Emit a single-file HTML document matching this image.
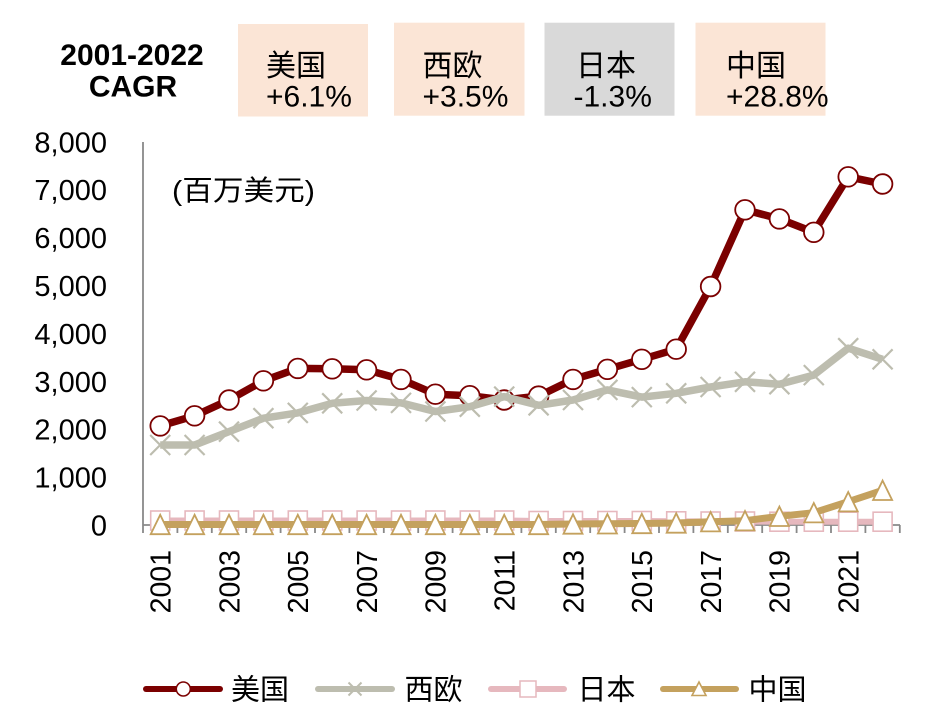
<!DOCTYPE html>
<html><head><meta charset="utf-8"><style>
html,body{margin:0;padding:0;background:#fff;width:930px;height:728px;overflow:hidden}
svg{display:block}
text{font-family:"Liberation Sans","Noto Sans CJK SC",sans-serif;fill:#000}
</style></head><body>
<svg width="930" height="728" viewBox="0 0 930 728" xmlns="http://www.w3.org/2000/svg">
<!-- header -->
<text x="132" y="65" font-size="30" font-weight="bold" text-anchor="middle">2001-2022</text>
<text x="133" y="96.5" font-size="30" font-weight="bold" text-anchor="middle">CAGR</text>
<rect x="238" y="24" width="130" height="92.5" fill="#FBE5D6"/>
<rect x="394" y="22.7" width="130.5" height="93" fill="#FBE5D6"/>
<rect x="544.5" y="22.7" width="130" height="93" fill="#D9D9D9"/>
<rect x="695.5" y="22.7" width="130" height="93" fill="#FBE5D6"/>
<text x="266" y="76" font-size="30">美国</text>
<text x="266" y="106.5" font-size="30">+6.1%</text>
<text x="422.5" y="76" font-size="30">西欧</text>
<text x="422.5" y="106.5" font-size="30">+3.5%</text>
<text x="576" y="76" font-size="30">日本</text>
<text x="573.5" y="106.5" font-size="30">-1.3%</text>
<text x="726" y="76" font-size="30">中国</text>
<text x="726" y="106.5" font-size="30">+28.8%</text>

<!-- y axis labels -->
<g font-size="29" text-anchor="end">
<text x="107" y="152.3">8,000</text>
<text x="107" y="200.2">7,000</text>
<text x="107" y="248.1">6,000</text>
<text x="107" y="296.0">5,000</text>
<text x="107" y="343.9">4,000</text>
<text x="107" y="391.8">3,000</text>
<text x="107" y="439.7">2,000</text>
<text x="107" y="487.6">1,000</text>
<text x="107" y="535.5">0</text>
</g>
<text x="172" y="200" font-size="28" textLength="143" lengthAdjust="spacingAndGlyphs">(百万美元)</text>

<!-- axes -->
<g stroke="#898989" stroke-width="1.8" fill="none">
<line x1="143" y1="142" x2="143" y2="533"/>
<line x1="143" y1="525" x2="900" y2="525"/>
<path d="M177.4 525v8M211.8 525v8M246.2 525v8M280.6 525v8M315 525v8M349.4 525v8M383.8 525v8M418.2 525v8M452.6 525v8M487 525v8M521.4 525v8M555.8 525v8M590.2 525v8M624.6 525v8M659 525v8M693.4 525v8M727.8 525v8M762.2 525v8M796.6 525v8M831 525v8M865.4 525v8M899.8 525v8"/>
</g>

<!-- x labels -->
<g font-size="28.5" text-anchor="end">
<text transform="translate(170.5,550) rotate(-90)">2001</text>
<text transform="translate(239.3,550) rotate(-90)">2003</text>
<text transform="translate(308.1,550) rotate(-90)">2005</text>
<text transform="translate(376.9,550) rotate(-90)">2007</text>
<text transform="translate(445.7,550) rotate(-90)">2009</text>
<text transform="translate(514.5,550) rotate(-90)">2011</text>
<text transform="translate(583.3,550) rotate(-90)">2013</text>
<text transform="translate(652.1,550) rotate(-90)">2015</text>
<text transform="translate(720.9,550) rotate(-90)">2017</text>
<text transform="translate(789.7,550) rotate(-90)">2019</text>
<text transform="translate(858.5,550) rotate(-90)">2021</text>
</g>

<!-- US series -->
<polyline fill="none" stroke="#7B0000" stroke-width="7.5" stroke-linejoin="round"
points="160.2,425.9 194.6,415.8 229,400 263.4,380.8 297.8,368.4 332.2,368.8 366.6,369.8 401,379.4 435.4,394.2 469.8,395.7 504.2,400 538.6,396.1 573,379.4 607.4,369.3 641.8,359.3 676.2,349.2 710.6,286.5 745,209.8 779.4,218.9 813.8,232.3 848.2,176.8 882.6,184"/>
<g fill="#fff" stroke="#7B0000" stroke-width="1.8">
<circle cx="160.2" cy="425.9" r="9.8"/><circle cx="194.6" cy="415.8" r="9.8"/><circle cx="229" cy="400" r="9.8"/><circle cx="263.4" cy="380.8" r="9.8"/><circle cx="297.8" cy="368.4" r="9.8"/><circle cx="332.2" cy="368.8" r="9.8"/><circle cx="366.6" cy="369.8" r="9.8"/><circle cx="401" cy="379.4" r="9.8"/><circle cx="435.4" cy="394.2" r="9.8"/><circle cx="469.8" cy="395.7" r="9.8"/><circle cx="504.2" cy="400" r="9.8"/><circle cx="538.6" cy="396.1" r="9.8"/><circle cx="573" cy="379.4" r="9.8"/><circle cx="607.4" cy="369.3" r="9.8"/><circle cx="641.8" cy="359.3" r="9.8"/><circle cx="676.2" cy="349.2" r="9.8"/><circle cx="710.6" cy="286.5" r="9.8"/><circle cx="745" cy="209.8" r="9.8"/><circle cx="779.4" cy="218.9" r="9.8"/><circle cx="813.8" cy="232.3" r="9.8"/><circle cx="848.2" cy="176.8" r="9.8"/><circle cx="882.6" cy="184" r="9.8"/>
</g>

<!-- West Europe series -->
<polyline fill="none" stroke="#BDBDAF" stroke-width="7.5" stroke-linejoin="round"
points="160.2,445 194.6,445 229,431.6 263.4,418.2 297.8,412.9 332.2,403.3 366.6,400.5 401,402.9 435.4,411.5 469.8,406.7 504.2,396.6 538.6,405.3 573,400 607.4,389.9 641.8,397.1 676.2,393.3 710.6,387 745,381.8 779.4,384.2 813.8,375.1 848.2,348.2 882.6,359.3"/>
<g stroke="#BDBDAF" stroke-width="2.2" fill="none">
<path d="M150.2 435l20 20M150.2 455l20-20 M184.6 435l20 20M184.6 455l20-20 M219 421.6l20 20M219 441.6l20-20 M253.4 408.2l20 20M253.4 428.2l20-20 M287.8 402.9l20 20M287.8 422.9l20-20 M322.2 393.3l20 20M322.2 413.3l20-20 M356.6 390.5l20 20M356.6 410.5l20-20 M391 392.9l20 20M391 412.9l20-20 M425.4 401.5l20 20M425.4 421.5l20-20 M459.8 396.7l20 20M459.8 416.7l20-20 M494.2 386.6l20 20M494.2 406.6l20-20 M528.6 395.3l20 20M528.6 415.3l20-20 M563 390l20 20M563 410l20-20 M597.4 379.9l20 20M597.4 399.9l20-20 M631.8 387.1l20 20M631.8 407.1l20-20 M666.2 383.3l20 20M666.2 403.3l20-20 M700.6 377l20 20M700.6 397l20-20 M735 371.8l20 20M735 391.8l20-20 M769.4 374.2l20 20M769.4 394.2l20-20 M803.8 365.1l20 20M803.8 385.1l20-20 M838.2 338.2l20 20M838.2 358.2l20-20 M872.6 349.3l20 20M872.6 369.3l20-20"/>
</g>

<!-- Japan series -->
<polyline fill="none" stroke="#E6B8BE" stroke-width="6" stroke-linejoin="round"
points="160.2,520.5 194.6,520.5 229,520.5 263.4,520.5 297.8,520.5 332.2,520.5 366.6,520.5 401,520.5 435.4,520.5 469.8,520.5 504.2,520.5 538.6,521 573,521 607.4,521 641.8,521 676.2,521.3 710.6,521.5 745,521.5 779.4,521.7 813.8,521.7 848.2,521.7 882.6,521.7"/>
<g fill="#fff" stroke="#E6B8BE" stroke-width="1.6">
<rect x="150.7" y="511" width="19" height="19"/><rect x="185.1" y="511" width="19" height="19"/><rect x="219.5" y="511" width="19" height="19"/><rect x="253.9" y="511" width="19" height="19"/><rect x="288.3" y="511" width="19" height="19"/><rect x="322.7" y="511" width="19" height="19"/><rect x="357.1" y="511" width="19" height="19"/><rect x="391.5" y="511" width="19" height="19"/><rect x="425.9" y="511" width="19" height="19"/><rect x="460.3" y="511" width="19" height="19"/><rect x="494.7" y="511" width="19" height="19"/><rect x="529.1" y="511.5" width="19" height="19"/><rect x="563.5" y="511.5" width="19" height="19"/><rect x="597.9" y="511.5" width="19" height="19"/><rect x="632.3" y="511.5" width="19" height="19"/><rect x="666.7" y="511.8" width="19" height="19"/><rect x="701.1" y="512" width="19" height="19"/><rect x="735.5" y="512" width="19" height="19"/><rect x="769.9" y="512.2" width="19" height="19"/><rect x="804.3" y="512.2" width="19" height="19"/><rect x="838.7" y="512.2" width="19" height="19"/><rect x="873.1" y="512.2" width="19" height="19"/>
</g>

<!-- China series -->
<polyline fill="none" stroke="#C4A15E" stroke-width="7" stroke-linejoin="round"
points="160.2,524.5 194.6,524.5 229,524.5 263.4,524.5 297.8,524.5 332.2,524.5 366.6,524.5 401,524.5 435.4,524.5 469.8,524.5 504.2,524.5 538.6,524.5 573,524 607.4,523.8 641.8,523.5 676.2,523 710.6,521.7 745,520.7 779.4,516.3 813.8,512.7 848.2,501.7 882.6,490.3"/>
<g fill="#fff" stroke="#C4A15E" stroke-width="1.8" stroke-linejoin="miter">
<path d="M160.2 514.8l9.5 19.4h-19z"/><path d="M194.6 514.8l9.5 19.4h-19z"/><path d="M229 514.8l9.5 19.4h-19z"/><path d="M263.4 514.8l9.5 19.4h-19z"/><path d="M297.8 514.8l9.5 19.4h-19z"/><path d="M332.2 514.8l9.5 19.4h-19z"/><path d="M366.6 514.8l9.5 19.4h-19z"/><path d="M401 514.8l9.5 19.4h-19z"/><path d="M435.4 514.8l9.5 19.4h-19z"/><path d="M469.8 514.8l9.5 19.4h-19z"/><path d="M504.2 514.8l9.5 19.4h-19z"/><path d="M538.6 514.8l9.5 19.4h-19z"/><path d="M573 514.3l9.5 19.4h-19z"/><path d="M607.4 514.1l9.5 19.4h-19z"/><path d="M641.8 513.8l9.5 19.4h-19z"/><path d="M676.2 513.3l9.5 19.4h-19z"/><path d="M710.6 512l9.5 19.4h-19z"/><path d="M745 511l9.5 19.4h-19z"/><path d="M779.4 506.6l9.5 19.4h-19z"/><path d="M813.8 503l9.5 19.4h-19z"/><path d="M848.2 492l9.5 19.4h-19z"/><path d="M882.6 480.6l9.5 19.4h-19z"/>
</g>

<!-- legend -->
<g stroke-linecap="round" stroke-width="6" fill="none">
<line x1="146" y1="689" x2="220" y2="689" stroke="#7B0000"/>
<line x1="318" y1="689" x2="392" y2="689" stroke="#BDBDAF"/>
<line x1="491" y1="689" x2="564" y2="689" stroke="#E6B8BE"/>
<line x1="663" y1="689" x2="736" y2="689" stroke="#C4A15E"/>
</g>
<circle cx="183.3" cy="689" r="7" fill="#fff" stroke="#7B0000" stroke-width="1.5"/>
<path d="M348.5 682.5l13 13M348.5 695.5l13-13" stroke="#BDBDAF" stroke-width="2" fill="none"/>
<rect x="520" y="681" width="16" height="16" fill="#fff" stroke="#E6B8BE" stroke-width="1.5"/>
<path d="M699 682l7 13.5h-14z" fill="#fff" stroke="#C4A15E" stroke-width="1.6"/>
<g font-size="29">
<text x="231" y="699.5">美国</text>
<text x="404.5" y="699.5">西欧</text>
<text x="577.5" y="699.5">日本</text>
<text x="748.5" y="699.5">中国</text>
</g>
</svg>
</body></html>
